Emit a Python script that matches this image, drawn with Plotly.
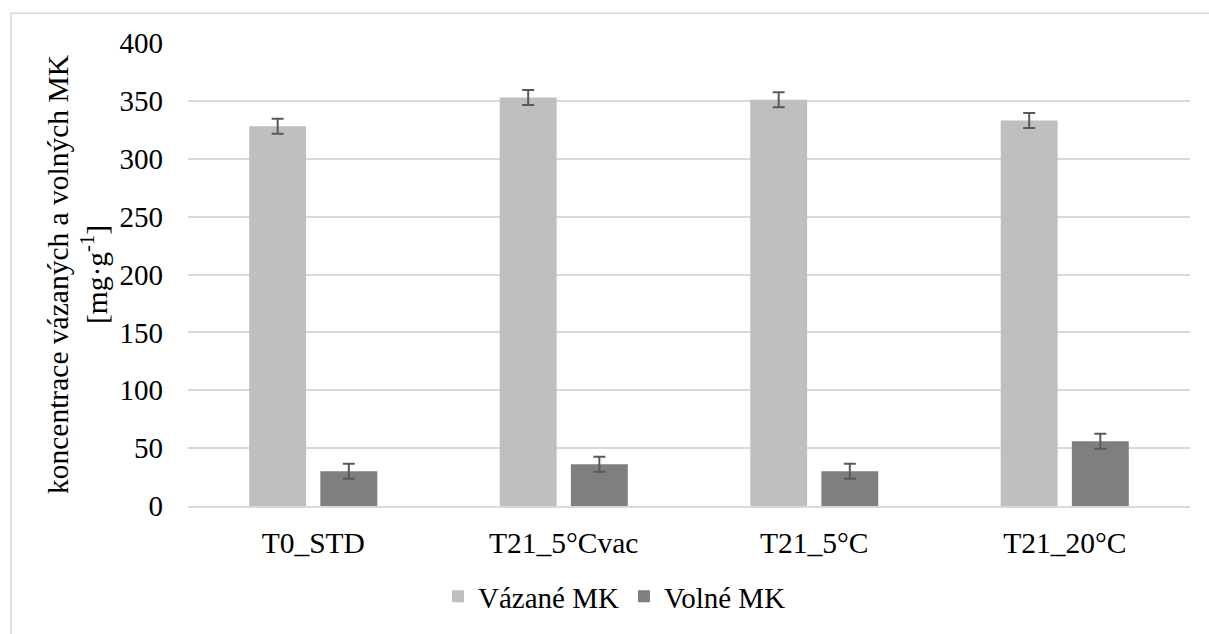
import plotly.graph_objects as go

# Sample groups and measured concentrations [mg/g]
categories = ["T0_STD", "T21_5°Cvac", "T21_5°C", "T21_20°C"]
vazane = [328, 353, 351, 333]
vazane_err = [6.5, 6.5, 6.5, 6.5]
volne = [30, 36, 30, 56]
volne_err = [6.5, 6.5, 6.5, 6.5]

FONT = "Liberation Serif"
GRID = "#D9D9D9"

W, H = 1209, 634
ML, MR, MT, MB = 188, 19, 43, 125

fig = go.Figure()
fig.add_trace(go.Bar(
    x=categories, y=vazane, name="Vázané MK",
    marker=dict(color="#BFBFBF", line=dict(width=0)),
    error_y=dict(type="data", array=vazane_err, color="#595959", thickness=2, width=6),
))
fig.add_trace(go.Bar(
    x=categories, y=volne, name="Volné MK",
    marker=dict(color="#7F7F7F", line=dict(width=0)),
    error_y=dict(type="data", array=volne_err, color="#595959", thickness=2, width=6),
))

# outer chart frame, expressed in paper coordinates
pw, ph = W - ML - MR, H - MT - MB
def px_to_paper_x(px):
    return (px - ML) / pw
def px_to_paper_y(py):
    return (H - MB - py) / ph

fig.add_shape(
    type="rect", xref="paper", yref="paper",
    x0=px_to_paper_x(11), x1=px_to_paper_x(W + 10),
    y0=px_to_paper_y(H + 10), y1=px_to_paper_y(13),
    line=dict(color=GRID, width=1.5), fillcolor="rgba(0,0,0,0)", layer="below",
)

fig.update_layout(
    width=W, height=H,
    margin=dict(l=ML, r=MR, t=MT, b=MB),
    paper_bgcolor="white", plot_bgcolor="white",
    barmode="group", bargap=0.432, bargroupgap=0.2,
    font=dict(family=FONT, size=29, color="black"),
    showlegend=True,
    legend=dict(
        orientation="h", x=px_to_paper_x(438), xanchor="left",
        y=px_to_paper_y(600), yanchor="middle",
        font=dict(family=FONT, size=29, color="black"),
        itemwidth=30, traceorder="normal",
    ),
    xaxis=dict(
        showgrid=False, showline=True, linecolor=GRID, linewidth=1.5,
        ticks="", ticklabelstandoff=10,
        tickfont=dict(family=FONT, size=29.5),
    ),
    yaxis=dict(
        range=[0, 400], dtick=50, showgrid=True, gridcolor=GRID, gridwidth=1.5,
        zeroline=False, showline=False, ticks="", ticklabelstandoff=24,
        tickfont=dict(family=FONT, size=29),
        title=dict(
            text="koncentrace vázaných a volných MK<br>[mg·g<sup>-1</sup>]",
            font=dict(family=FONT, size=29.5), standoff=3,
        ),
    ),
)

fig.write_html("out.html")
